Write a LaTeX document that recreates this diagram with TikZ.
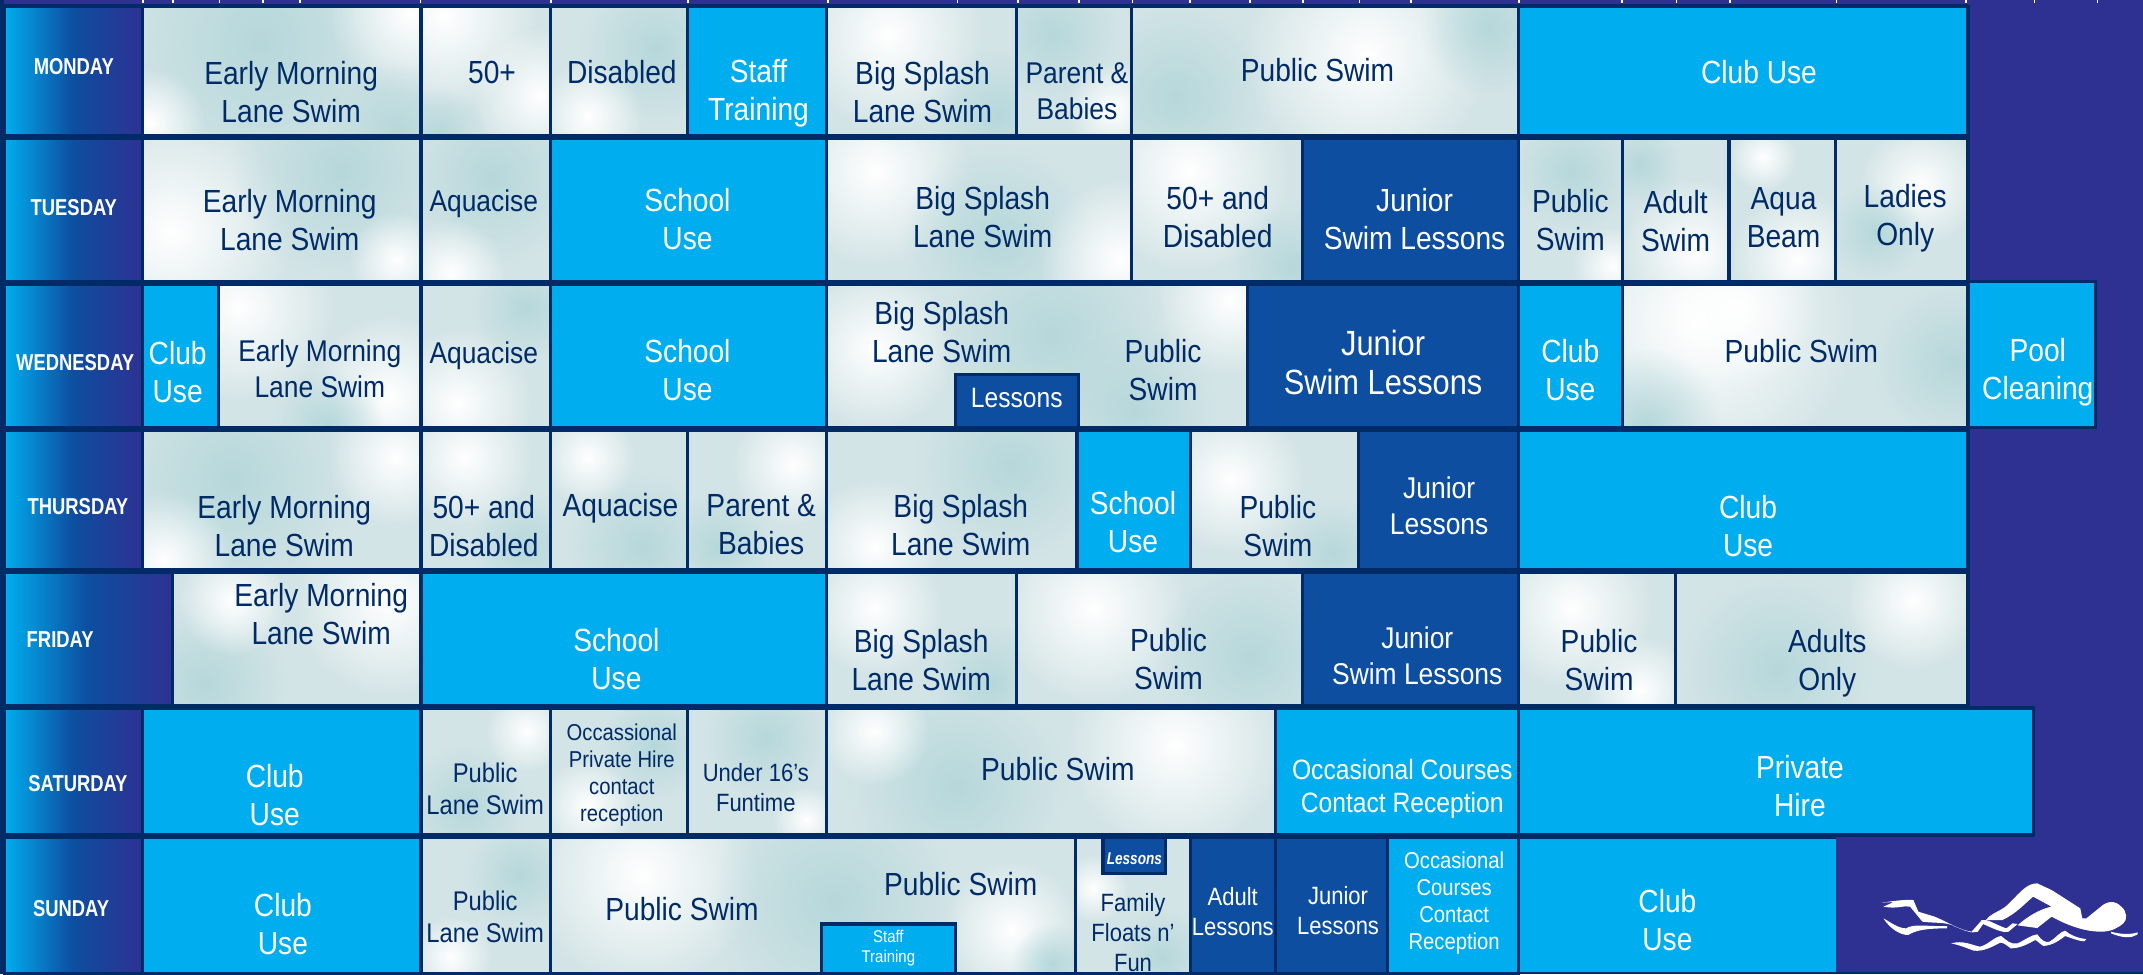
\documentclass[tikz,border=0pt]{standalone}
\usepackage{fontspec}
\usetikzlibrary{fadings}
\setmainfont[FakeStretch=0.88]{Liberation Sans}
\newfontfamily\boldcond[FakeStretch=0.8]{Liberation Sans Bold}
\definecolor{cyanb}{HTML}{00AEEF}
\definecolor{darkb}{HTML}{0D4EA0}
\definecolor{navyb}{HTML}{002B66}
\definecolor{purp}{HTML}{2E3192}
\definecolor{paleA}{HTML}{B6D8DB}
\definecolor{paleC}{HTML}{D3E4E6}
\tikzfading[name=glow,inner color=transparent!0,outer color=transparent!100]
\tikzset{
  edge/.style={draw=navyb,line width=3.2pt},
  cy/.style={edge,fill=cyanb},
  dk/.style={edge,fill=darkb},
  dayb/.style={edge,left color=cyanb,right color=purp,middle color=darkb},
  tn/.style={font=\fontsize{#1}{\the\numexpr#1*119/100\relax}\selectfont,text=navyb,align=center,inner sep=0pt},
  tn/.default=32,
  tw/.style={font=\fontsize{#1}{\the\numexpr#1*119/100\relax}\selectfont,text=white,align=center,inner sep=0pt},
  tw/.default=32,
  td/.style={font=\boldcond\fontsize{23}{27}\selectfont,text=white,inner sep=0pt},
}
\newcommand{\cell}[5]{\path[#1] (#2,#3) rectangle (#4,#5);}
\newcommand{\W}[3]{\fill[white,path fading=glow] (#1,#2) circle (#3);}
\newcommand{\T}[3]{\fill[paleA,path fading=glow] (#1,#2) circle (#3);}
\newcommand{\pc}[5]{\fill[paleC] (#1,#2) rectangle (#3,#4);
  \begin{scope}\clip (#1,#2) rectangle (#3,#4); #5 \end{scope}
  \draw[edge] (#1,#2) rectangle (#3,#4);}
\begin{document}
\begin{tikzpicture}[x=1.3667pt,y=-1.3667pt]
\useasboundingbox (0,0) rectangle (1568,713);
\fill[purp] (0,0) rectangle (1568,713);
\fill[navyb] (0,0) rectangle (3,713);
\fill[navyb] (0,2.6) rectangle (1440,6);
\fill[navyb] (0,711) rectangle (1568,713);
\foreach \tx in {104,126,160,192,219,307,402.5,503,605,700,744,789,828,870,914,953,994,1032,1111,1186,1226,1265,1343,1438,1488,1534}
  \fill[white] (\tx,0) rectangle ++(1.3,2.5);
% days
\cell{dayb}{3}{5}{104}{99}
\cell{dayb}{3}{101}{104}{206}
\cell{dayb}{3}{208}{104}{313}
\cell{dayb}{3}{315}{104}{417}
\cell{dayb}{3}{419}{126}{516}
\cell{dayb}{3}{518}{104}{611}
\cell{dayb}{3}{613}{104}{712}
\node[td] (mon) at (54,49) {MONDAY};
\node[td] (tue) at (54,152) {TUESDAY};
\node[td] (wed) at (55,265) {WEDNESDAY};
\node[td] (thu) at (57,371) {THURSDAY};
\node[td] (fri) at (44,468) {FRIDAY};
\node[td] (sat) at (57,573) {SATURDAY};
\node[td] (sun) at (52,665) {SUNDAY};
% Monday
\pc{104}{5}{308}{99}{\T{190}{30}{110}\W{300}{10}{60}\T{290}{95}{50}\W{110}{90}{40}} \node[tn] at (213,67) {Early Morning\\Lane Swim};
\pc{308}{5}{403}{99}{\W{325}{12}{70}\W{395}{70}{50}\T{320}{98}{35}} \node[tn] at (360,53) {50+};
\pc{403}{5}{503}{99}{\T{480}{35}{55}\W{430}{85}{40}} \node[tn] at (455,53) {Disabled};
\cell{cy}{503}{5}{605}{99} \node[tw] at (555,68) {Staff\\Training};
\pc{605}{5}{744}{99}{\W{650}{25}{70}\T{730}{85}{50}} \node[tn] at (675,67) {Big Splash\\Lane Swim};
\pc{744}{5}{828}{99}{\T{770}{25}{50}\W{815}{80}{35}} \node[tn=30] at (788,67) {Parent \&\\Babies};
\pc{828}{5}{1111}{99}{\T{860}{70}{70}\W{1000}{40}{90}\T{1090}{20}{50}} \node[tn] at (964,51) {Public Swim};
\cell{cy}{1111}{5}{1440}{99} \node[tw] at (1287,53) {Club Use};
% Tuesday
\pc{104}{101}{308}{206}{\W{125}{170}{90}\T{250}{125}{80}\W{290}{190}{35}} \node[tn] at (212,161) {Early Morning\\Lane Swim};
\pc{308}{101}{403}{206}{\T{360}{130}{65}\W{330}{200}{40}} \node[tn,font=\fontsize{30}{36}\selectfont] at (354,149) {Aquacise};
\cell{cy}{403}{101}{605}{206} \node[tw] at (503,160) {School\\Use};
\pc{605}{101}{828}{206}{\W{640}{125}{70}\T{730}{175}{70}\W{820}{190}{60}} \node[tn] at (719,159) {Big Splash\\Lane Swim};
\pc{828}{101}{953}{206}{\W{870}{125}{75}\T{945}{195}{45}} \node[tn] at (891,159) {50+ and\\Disabled};
\cell{dk}{953}{101}{1111}{206} \node[tw] at (1035,160) {Junior\\Swim Lessons};
\pc{1111}{101}{1187}{206}{\T{1150}{125}{45}\W{1180}{195}{30}} \node[tn] at (1149,161) {Public\\Swim};
\pc{1187}{101}{1265}{206}{\W{1240}{185}{55}\T{1200}{120}{30}} \node[tn] at (1226,162) {Adult\\Swim};
\pc{1265}{101}{1343}{206}{\W{1315}{190}{50}\W{1290}{115}{25}} \node[tn] at (1305,159) {Aqua\\Beam};
\pc{1343}{101}{1440}{206}{\W{1405}{135}{45}\T{1372}{170}{35}} \node[tn] at (1394,160) {Ladies\\Only};
% Wednesday
\cell{cy}{104}{208}{160}{313} \node[tw] at (130,272) {Club\\Use};
\pc{160}{208}{308}{313}{\W{175}{225}{70}\W{285}{290}{60}\T{240}{310}{40}} \node[tn=30] at (234,270) {Early Morning\\Lane Swim};
\pc{308}{208}{403}{313}{\W{335}{295}{55}\T{385}{225}{40}} \node[tn,font=\fontsize{30}{36}\selectfont] at (354,260) {Aquacise};
\cell{cy}{403}{208}{605}{313} \node[tw] at (503,271) {School\\Use};
\pc{605}{208}{913}{313}{\W{640}{255}{60}\T{770}{245}{85}\T{830}{300}{60}\W{900}{220}{55}} \node[tn] at (689,243) {Big Splash\\Lane Swim};
\node[tn] at (851,271) {Public\\Swim};
\cell{dk}{699}{274}{789}{313} \node[tw=28] at (744,291) {Lessons};
\cell{dk}{913}{208}{1111}{313} \node[tw=35] at (1012,265) {Junior\\[-3pt]Swim Lessons};
\cell{cy}{1111}{208}{1187}{313} \node[tw] at (1149,271) {Club\\Use};
\pc{1187}{208}{1440}{313}{\W{1240}{235}{120}\W{1270}{225}{60}\T{1205}{310}{55}\T{1430}{265}{60}} \node[tn] at (1318,257) {Public Swim};
\cell{cy}{1440}{206}{1533}{313} \node[tw] at (1491,272) {Pool\\Cleaning};
% Thursday
\pc{104}{315}{308}{417}{\T{170}{350}{90}\W{120}{410}{50}\W{290}{335}{50}} \node[tn] at (208,385) {Early Morning\\Lane Swim};
\pc{308}{315}{403}{417}{\W{340}{335}{50}\T{385}{400}{40}} \node[tn] at (354,385) {50+ and\\Disabled};
\pc{403}{315}{503}{417}{\T{470}{400}{55}\W{430}{335}{35}} \node[tn] at (454,372) {Aquacise};
\pc{503}{315}{605}{417}{\W{580}{340}{45}\T{525}{400}{40}} \node[tn] at (557,384) {Parent \&\\Babies};
\pc{605}{315}{788}{417}{\T{740}{340}{70}\W{640}{400}{50}} \node[tn] at (703,384) {Big Splash\\Lane Swim};
\cell{cy}{788}{315}{871}{417} \node[tw] at (829,382) {School\\Use};
\pc{871}{315}{994}{417}{\W{900}{350}{55}\T{975}{405}{40}} \node[tn] at (935,385) {Public\\Swim};
\cell{dk}{994}{315}{1111}{417} \node[tw=30] at (1053,370) {Junior\\Lessons};
\cell{cy}{1111}{315}{1440}{417} \node[tw] at (1279,385) {Club\\Use};
% Friday
\pc{126}{419}{308}{516}{\W{285}{440}{70}\T{150}{500}{60}\W{170}{440}{40}} \node[tn] at (235,449) {Early Morning\\Lane Swim};
\cell{cy}{308}{419}{605}{516} \node[tw] at (451,482) {School\\Use};
\pc{605}{419}{744}{516}{\W{640}{445}{50}\T{725}{500}{45}} \node[tn] at (674,483) {Big Splash\\Lane Swim};
\pc{744}{419}{953}{516}{\W{800}{445}{70}\T{915}{480}{70}} \node[tn] at (855,482) {Public\\Swim};
\cell{dk}{953}{419}{1111}{516} \node[tw=30] at (1037,480) {Junior\\Swim Lessons};
\pc{1111}{419}{1226}{516}{\W{1150}{445}{60}\W{1200}{505}{40}} \node[tn] at (1170,483) {Public\\Swim};
\pc{1226}{419}{1440}{516}{\T{1300}{490}{70}\W{1400}{440}{50}} \node[tn] at (1337,485) {Adults\\Only};
% Saturday
\cell{cy}{104}{518}{308}{611} \node[tw] at (201,582) {Club\\Use};
\pc{308}{518}{403}{611}{\T{340}{590}{45}\W{385}{535}{30}} \node[tn=27] at (355,577) {Public\\Lane Swim};
\pc{403}{518}{503}{611}{\W{430}{590}{35}\T{480}{545}{40}} \node[tn=23] at (455,567) {Occassional\\Private Hire\\contact\\reception};
\pc{503}{518}{605}{611}{\T{560}{540}{45}\W{590}{600}{25}} \node[tn=25] at (553,576) {Under 16's\\Funtime};
\pc{605}{518}{933}{611}{\T{700}{575}{80}\W{860}{545}{80}\W{640}{535}{40}} \node[tn] at (774,563) {Public Swim};
\cell{cy}{933}{518}{1111}{611} \node[tw=28] at (1026,577) {Occasional Courses\\Contact Reception};
\cell{cy}{1111}{518}{1488}{611} \node[tw] at (1317,575) {Private\\Hire};
% Sunday
\cell{cy}{104}{613}{308}{713} \node[tw] at (207,676) {Club\\Use};
\pc{308}{613}{403}{713}{\T{380}{640}{40}\W{330}{700}{30}} \node[tn=27] at (355,671) {Public\\Lane Swim};
\pc{403}{613}{787}{713}{\W{470}{640}{85}\T{610}{660}{90}\W{740}{680}{50}\T{770}{705}{30}} \node[tn] at (499,665) {Public Swim};
\node[tn] at (703,647) {Public Swim};
\cell{cy}{601}{676}{699}{713} \node[tw=17] at (650,694) {Staff\\Training};
\pc{787}{613}{871}{713}{\T{850}{700}{35}\W{800}{650}{25}} \node[tn=25] at (829,682) {Family\\Floats n’\\Fun};
\cell{dk}{807}{613}{853}{639} \node[font=\boldcond\itshape\fontsize{17}{20}\selectfont,text=white,inner sep=0pt] at (830,628) {Lessons};
\cell{dk}{871}{613}{933}{713} \node[tw=25] at (902,667) {Adult\\Lessons};
\cell{dk}{933}{613}{1015}{713} \node[tw=25] at (979,666) {Junior\\Lessons};
\cell{cy}{1015}{613}{1111}{713} \node[tw=23] at (1064,660.5) {Occasional\\Courses\\Contact\\Reception};
\fill[cyanb] (1111,613) rectangle (1343,713);
\draw[edge] (1111,613) -- (1111,713);
\draw[edge] (1111,613) -- (1343,613);
\fill[navyb] (104,711) rectangle (1568,713);
\node[tw] at (1220,673) {Club\\Use};
% swimmer
\begin{scope}[shift={(1097.6,512.2)},x=0.41pt,y=-0.3333pt]
\fill[white] (1185,660) .. controls (1200,635) and (1225,635) .. (1245,605)
 .. controls (1270,575) and (1285,550) .. (1310,550)
 -- (1345,570) -- (1415,625) -- (1420,655) -- (1430,655)
 .. controls (1445,640) and (1455,630) .. (1465,620)
 .. controls (1480,603) and (1500,600) .. (1515,620)
 .. controls (1530,635) and (1530,660) .. (1520,670)
 .. controls (1505,685) and (1490,695) .. (1465,695)
 .. controls (1430,695) and (1390,680) .. (1345,650)
 -- (1310,684) -- (1262,676)
 .. controls (1285,650) and (1320,625) .. (1345,620)
 -- (1300,590) .. controls (1280,610) and (1260,640) .. (1225,660) -- cycle;
\fill[white] (1175,660) -- (1150,695) .. controls (1120,690) and (1090,665) .. (1060,650)
 -- (1020,635) -- (1008,600) .. controls (980,598) and (950,605) .. (930,608)
 -- (960,606) -- (935,620) .. controls (970,628) and (985,615) .. (1000,620)
 -- (1030,665) .. controls (1060,670) and (1090,665) .. (1110,680)
 .. controls (1130,690) and (1150,702) .. (1165,695)
 -- (1178,672) .. controls (1210,690) and (1230,700) .. (1240,695)
 -- (1262,672) -- (1250,670) -- (1235,685) .. controls (1220,680) and (1200,665) .. (1185,660) -- cycle;
\fill[white] (935,655) .. controls (950,685) and (975,705) .. (995,705)
 .. controls (1010,695) and (1025,685) .. (1090,685) -- (1090,678)
 .. controls (1040,680) and (1010,670) .. (990,685)
 .. controls (970,685) and (950,665) .. (935,655) -- cycle;
\fill[white] (1100,730) .. controls (1130,720) and (1150,735) .. (1170,740)
 .. controls (1190,735) and (1205,710) .. (1222,708)
 .. controls (1235,720) and (1245,735) .. (1262,730)
 .. controls (1280,720) and (1295,705) .. (1310,703)
 .. controls (1320,720) and (1330,730) .. (1340,725)
 .. controls (1355,715) and (1365,695) .. (1378,692)
 .. controls (1390,705) and (1410,715) .. (1430,717)
 -- (1425,724) .. controls (1405,722) and (1390,712) .. (1378,708)
 .. controls (1365,720) and (1350,735) .. (1325,738)
 .. controls (1315,730) and (1310,722) .. (1305,720)
 .. controls (1290,730) and (1270,745) .. (1245,745)
 .. controls (1235,735) and (1228,728) .. (1220,728)
 .. controls (1200,740) and (1180,755) .. (1155,752)
 .. controls (1140,745) and (1120,735) .. (1100,730) -- cycle;
\fill[white] (1490,695) .. controls (1510,702) and (1535,705) .. (1555,697)
 -- (1555,703) .. controls (1540,715) and (1520,715) .. (1490,700) -- cycle;
\end{scope}
\end{tikzpicture}
\end{document}
